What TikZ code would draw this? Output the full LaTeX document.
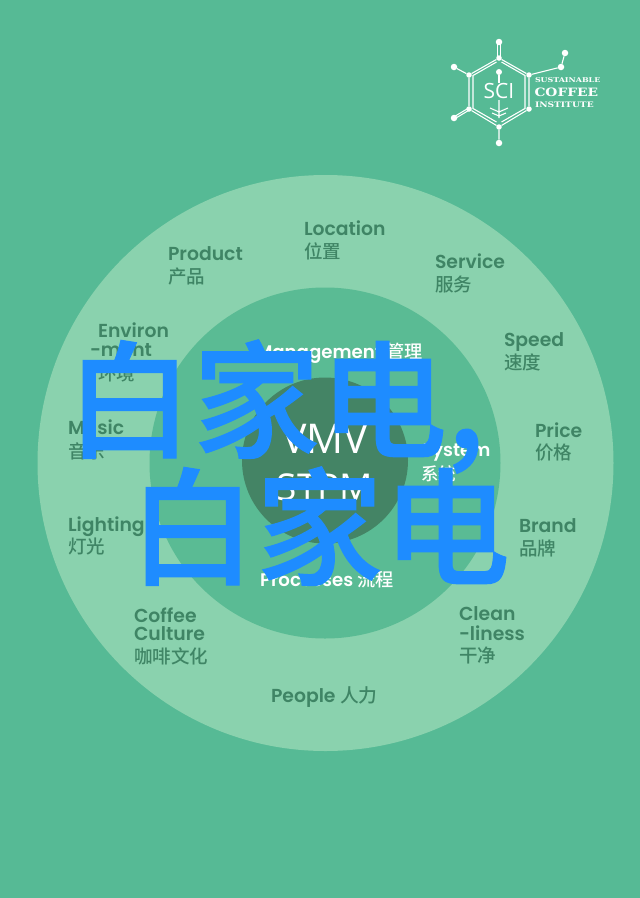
\documentclass[tikz,border=0pt]{standalone}
\usepackage{fontspec}
\setmainfont{Poppins}[BoldFont=Poppins SemiBold]
\newfontfamily\cjk{Noto Sans CJK SC Medium}
\newfontfamily\cjkbig[FakeBold=0.9]{Noto Sans CJK SC Medium}
\newfontfamily\slab{DejaVu Serif}
\newfontfamily\thin{Open Sans}
\definecolor{bgG}{HTML}{56BA95}
\definecolor{ringG}{HTML}{8AD2AE}
\definecolor{midG}{HTML}{5ABB94}
\definecolor{coreG}{HTML}{448465}
\definecolor{inkG}{HTML}{3F8565}
\definecolor{bigB}{HTML}{1E8CFF}
\tikzset{
  lab/.style={anchor=base west,inner sep=0pt,outer sep=0pt,text=inkG,font=\fontsize{18.8}{20}\bfseries},
  zh/.style={anchor=base west,inner sep=0pt,outer sep=0pt,text=inkG,font=\fontsize{18.5}{20}\cjk},
  wlab/.style={anchor=base west,inner sep=0pt,outer sep=0pt,text=white,font=\fontsize{18.2}{20}\bfseries},
  wzh/.style={anchor=base west,inner sep=0pt,outer sep=0pt,text=white,font=\fontsize{17.5}{20}\cjk},
  core/.style={anchor=base,inner sep=0pt,outer sep=0pt,text=white,font=\fontsize{37}{40}\thin},
  big/.style={anchor=base west,inner sep=0pt,outer sep=0pt,text=bigB,font=\fontsize{127}{134}\cjkbig},
  dot/.style={circle,fill=white,inner sep=0pt,minimum size=6.5pt},
  hexv/.style={circle,fill=white,inner sep=0pt,minimum size=5.5pt},
  bond/.style={draw=white,line width=1.1pt},
  logot/.style={anchor=base west,inner sep=0pt,outer sep=0pt,text=white,xscale=1.2,transform shape}
}
\begin{document}
\begin{tikzpicture}[x=1pt,y=-1pt]
\useasboundingbox (0,0) rectangle (640,898);
\fill[bgG] (0,0) rectangle (640,898);
\fill[ringG] (325.5,463) circle[radius=288];
\fill[midG] (325,463) circle[radius=175.5];
\fill[coreG] (325,460.5) circle[radius=83];

% logo
\node[hexv] (h1) at (499,58) {};
\node[hexv] (h2) at (529,75) {};
\node[hexv] (h3) at (529,109) {};
\node[hexv] (h4) at (499,127) {};
\node[hexv] (h5) at (469,109) {};
\node[hexv] (h6) at (469,75) {};
\node[dot] (d1) at (499,42) {};
\node[dot] (d2) at (454,67) {};
\node[dot] (d3) at (454,118) {};
\node[dot] (d4) at (499,143) {};
\node[dot] (d5) at (561,67) {};
\node[dot] (d6) at (565,53) {};
\draw[bond] (h1)--(h2)--(h3)--(h4)--(h5)--(h6)--(h1);
\draw[bond] (496.5,62)--(473,75.5)--(473,108.5)--(496.5,122);
\draw[bond] (501.5,62)--(525,75.5)--(525,108.5)--(501.5,122);
\draw[bond] (h4)--(d4) (h6)--(d2) (h2)--(d5)--(d6);
\draw[bond] ([xshift=-1.3pt]h1.center)--([xshift=-1.3pt]d1.center) ([xshift=1.3pt]h1.center)--([xshift=1.3pt]d1.center);
\draw[bond] ([yshift=-1.2pt]h5.center)--([yshift=-1.2pt]d3.center) ([yshift=1.2pt]h5.center)--([yshift=1.2pt]d3.center);
\node[anchor=center,inner sep=0pt,text=white,font=\fontsize{21}{21}\thin] (sci) at (499,91) {SCI};
\node[circle,fill=white,inner sep=0pt,minimum width=6pt,minimum height=6pt] (leaf) at (499,72) {};
\draw[bond] (leaf)--(sci.north);
\draw[bond] (499,100)--(499,118) (490,108)--(499,112)--(508,108) (492,113)--(499,116)--(506,113);
\node[logot,font=\fontsize{6.6}{7}\slab\bfseries] (l1) at (535,82.5) {SUSTAINABLE};
\node[logot,font=\fontsize{11.5}{12}\slab\bfseries] (l2) at (534.5,96) {COFFEE};
\node[logot,font=\fontsize{7.6}{8}\slab\bfseries] (l3) at (535,107) {INSTITUTE};

% labels
\node[lab] (loc) at (304,235) {Location};
\node[zh] (loczh) at (304,258) {位置};
\node[lab] (prod) at (168,260) {Product};
\node[zh] (prodzh) at (168,283) {产品};
\node[lab] (serv) at (435,268) {Service};
\node[zh] (servzh) at (435,291) {服务};
\node[lab] (speed) at (504,346) {Speed};
\node[zh] (speedzh) at (504,369) {速度};
\node[lab] (price) at (535,437) {Price};
\node[zh] (pricezh) at (535,459) {价格};
\node[lab] (brand) at (519,532) {Brand};
\node[zh] (brandzh) at (519,555) {品牌};
\node[lab] (clean) at (459,620) {Clean};
\node[lab] (liness) at (459,640) {-liness};
\node[zh] (cleanzh) at (459,662) {干净};
\node[lab] (people) at (271,702) {People \mdseries\cjk 人力};
\node[lab] (coffee) at (134,622) {Coffee};
\node[lab] (cult) at (134,640) {Culture};
\node[zh] (cultzh) at (134,663) {咖啡文化};
\node[lab] (light) at (68,531) {Lighting};
\node[zh] (lightzh) at (68,553) {灯光};
\node[lab] (music) at (68,434) {Music};
\node[zh] (musiczh) at (68,458) {音乐};
\node[lab] (env) at (98,337) {Environ};
\node[lab] (ment) at (90,356) {-ment};
\node[zh] (envzh) at (98,380) {环境};
\node[wlab] (mgmt) at (256,358) {Management \mdseries\cjk 管理};
\node[wlab] (sys) at (421,456) {System};
\node[wzh] (syszh) at (421,480) {系统};
\node[wlab] (proc) at (260,586) {Processes \mdseries\cjk 流程};
\node[core,font=\fontsize{41}{44}\thin] (vmv) at (325,453) {VMV};
\node[core] (stpm) at (325,500) {STPM};

% overprinted title
\node[big] (t1) at (66,448) {白家电,};
\node[big] (t2) at (129,575) {白家电};
\end{tikzpicture}
\end{document}
